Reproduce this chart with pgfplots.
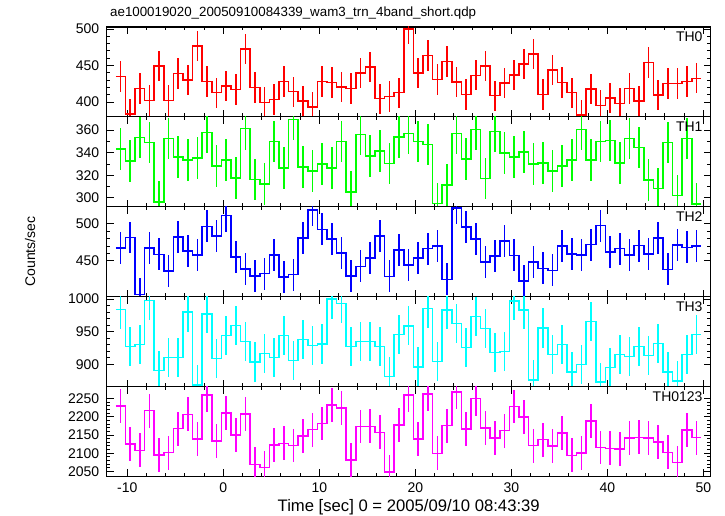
\documentclass[border=0pt]{standalone}
\usepackage{graphicx}
\usepackage{pgfplots}
\pgfplotsset{compat=1.18}
\usepackage{pgfplotstable}
\usepackage{fontspec}
\setmainfont{Liberation Sans}

\definecolor{qred}{RGB}{255,0,0}
\definecolor{qgreen}{RGB}{0,255,0}
\definecolor{qblue}{RGB}{0,0,255}
\definecolor{qcyan}{RGB}{0,255,255}
\definecolor{qmag}{RGB}{255,0,255}

% t = left edge of 1-s bin
\pgfplotstableread{
t th0 th1 th2 th3 sum
-11.2 435.3 343.3 467.3 984.1 2230.0
-10.2 383.5 332.5 481.4 927.2 2124.6
-9.2 418.8 353.6 405.0 930.3 2107.7
-8.2 402.3 349.2 467.3 997.9 2216.7
-7.2 449.5 296.5 458.6 890.3 2094.9
-6.2 402.3 352.7 436.4 910.3 2101.7
-5.2 439.0 336.0 481.8 910.8 2167.6
-4.2 430.3 333.4 463.2 980.0 2206.9
-3.2 476.6 335.4 457.7 868.7 2138.4
-2.2 428.0 358.0 496.4 977.4 2259.8
-1.2 412.8 328.1 483.2 909.2 2133.3
-0.2 422.0 333.4 510.9 944.1 2210.4
0.8 417.4 317.5 455.0 959.5 2149.4
1.8 472.5 361.2 439.1 934.9 2207.7
2.8 419.7 316.4 429.5 903.6 2069.2
3.8 399.5 312.3 432.7 916.4 2060.9
4.8 403.7 350.0 458.2 910.8 2122.7
5.8 428.4 326.3 428.2 944.1 2127.0
6.8 414.2 369.4 431.4 906.2 2121.2
7.8 401.4 327.2 480.9 938.0 2147.5
8.8 393.6 324.0 518.2 928.7 2164.5
9.8 428.0 330.1 492.3 931.3 2181.7
10.8 426.6 326.3 479.5 1000.0 2232.4
11.8 420.6 350.0 460.5 993.3 2224.4
12.8 418.8 305.2 429.5 927.2 2080.7
13.8 439.5 356.2 442.7 934.9 2173.3
14.8 448.2 337.2 453.6 934.9 2173.9
15.8 404.6 341.3 483.6 927.7 2157.2
16.8 407.8 330.4 429.1 881.5 2048.8
17.8 412.8 353.9 464.5 945.6 2176.8
18.8 500.0 356.8 444.1 959.0 2259.9
19.8 439.5 349.8 453.6 896.4 2139.3
20.8 463.8 347.4 466.4 985.6 2263.2
21.8 430.7 295.0 470.0 904.1 2099.8
22.8 455.5 311.4 425.0 983.6 2175.5
23.8 427.5 357.1 520.9 962.6 2268.1
24.8 410.6 334.2 495.5 925.6 2165.9
25.8 436.7 360.6 479.1 973.3 2249.7
26.8 449.1 317.0 448.2 954.9 2169.2
27.8 408.7 358.8 456.4 918.0 2141.9
28.8 426.1 339.8 476.4 919.5 2161.8
29.8 437.2 336.3 457.3 997.4 2228.2
30.8 452.3 340.4 423.2 983.6 2199.5
31.8 466.1 330.1 448.2 876.4 2120.8
32.8 410.6 330.7 440.0 955.9 2137.2
33.8 444.0 324.0 437.3 914.9 2120.2
34.8 426.6 328.4 470.0 930.8 2155.8
35.8 412.8 333.4 459.1 888.7 2094.0
36.8 382.1 360.6 457.7 900.0 2100.4
37.8 417.9 333.4 471.8 965.6 2188.7
38.8 395.4 350.0 497.3 872.8 2115.5
39.8 405.5 350.9 461.8 895.4 2113.6
40.8 398.2 331.0 466.4 915.4 2111.0
41.8 418.8 352.7 458.2 912.3 2142.0
42.8 401.4 344.5 470.5 927.2 2143.6
43.8 454.1 315.8 459.1 913.3 2142.3
44.8 409.6 308.2 480.9 931.8 2130.5
45.8 425.7 349.2 438.6 888.7 2102.2
46.8 425.7 302.0 471.4 874.9 2074.0
47.8 428.4 352.7 468.2 914.9 2164.2
48.8 432.6 294.4 470.0 945.6 2142.6
49.8 432.6 294.4 470.0 945.6 2142.6
}\qdpdata

\pgfplotsset{
  panel/.style={
    scale only axis, width=604bp, height=89.9bp,
    xmin=-12.15, xmax=50.77,
    axis line style={line width=1.2bp, black},
    tick style={line width=0.9bp, black},
    tick align=inside,
    xtick={-10,0,...,50}, minor x tick num=4,
    major tick length=7bp, minor tick length=3.5bp,
    xtick pos=both, ytick pos=both,
    /pgf/number format/assume math mode=true,
    /pgf/number format/set thousands separator={},
    ticklabel style={font=\fontsize{14bp}{16bp}\selectfont},
    yticklabel style={xshift=-4bp},
    xticklabel style={yshift=-3bp},
    clip=true,
  },
}

\newcommand{\stepplot}[2]{%
  \addplot[draw=#1, const plot mark left, mark=none, line width=1.5bp]
    table[x=t, y=#2]{\qdpdata};}
\newcommand{\errplot}[3]{% color, column, error
  \addplot[draw=#1, only marks, mark=*, mark size=0pt,
    mark options={draw=none, fill=none}, forget plot,
    skip coords between index={61}{62},
    error bars/.cd, y dir=both, y fixed=#3, error mark=none,
    error bar style={draw=#1, line width=1.5bp, solid}]
    table[x expr=\thisrow{t}+0.5, y=#2]{\qdpdata};}

\newcommand{\panellabel}[1]{\node[anchor=north east, inner sep=0pt, font=\fontsize{14bp}{16bp}\selectfont] at ([xshift=-8bp, yshift=-4.5bp]rel axis cs:1,1) {#1};}

\begin{document}
\begin{tikzpicture}[x=1bp, y=1bp]
\fill[white] (0,0) rectangle (725,516);
\useasboundingbox (0,0) rectangle (725,516);

% TH0
\begin{axis}[panel, at={(106.7bp,399.1bp)}, anchor=south west,
  ymin=379.8, ymax=502.7, ytick={400,450,500}, minor y tick num=4, xticklabels={}]
\stepplot{qred}{th0}
\errplot{qred}{th0}{20.8}
\panellabel{TH0}
\end{axis}

% TH1
\begin{axis}[panel, at={(106.7bp,309.2bp)}, anchor=south west,
  ymin=292.1, ymax=371.7, ytick={300,320,340,360}, minor y tick num=1, xticklabels={}]
\stepplot{qgreen}{th1}
\errplot{qgreen}{th1}{18.4}
\panellabel{TH1}
\end{axis}

% TH2
\begin{axis}[panel, at={(106.7bp,219.3bp)}, anchor=south west,
  ymin=401.8, ymax=522.7, ytick={450,500}, minor y tick num=4, xticklabels={}]
\stepplot{qblue}{th2}
\errplot{qblue}{th2}{21.5}
\panellabel{TH2}
\end{axis}

% TH3
\begin{axis}[panel, at={(106.7bp,129.4bp)}, anchor=south west,
  ymin=866, ymax=1003.8, ytick={900,950,1000}, minor y tick num=4, xticklabels={}]
\stepplot{qcyan}{th3}
\errplot{qcyan}{th3}{30}
\panellabel{TH3}
\end{axis}

% TH0123
\begin{axis}[panel, at={(106.7bp,39.5bp)}, anchor=south west,
  ymin=2036, ymax=2283, ytick={2050,2100,...,2250}, minor y tick num=4]
\stepplot{qmag}{sum}
\errplot{qmag}{sum}{46.5}
\panellabel{TH0123}
\end{axis}

\node[anchor=base west, inner sep=0pt, font=\fontsize{14bp}{16bp}\selectfont] at (110,499) {\resizebox{366bp}{!}{ae100019020\_20050910084339\_wam3\_trn\_4band\_short.qdp}};
\node[anchor=base, inner sep=0pt, font=\fontsize{14bp}{16bp}\selectfont] at (408.7,4) {\resizebox{262bp}{!}{Time [sec] 0 = 2005/09/10 08:43:39}};
\node[rotate=90, anchor=center, inner sep=0pt, font=\fontsize{14bp}{16bp}\selectfont] at (30,264.5) {Counts/sec};
\end{tikzpicture}
\end{document}
